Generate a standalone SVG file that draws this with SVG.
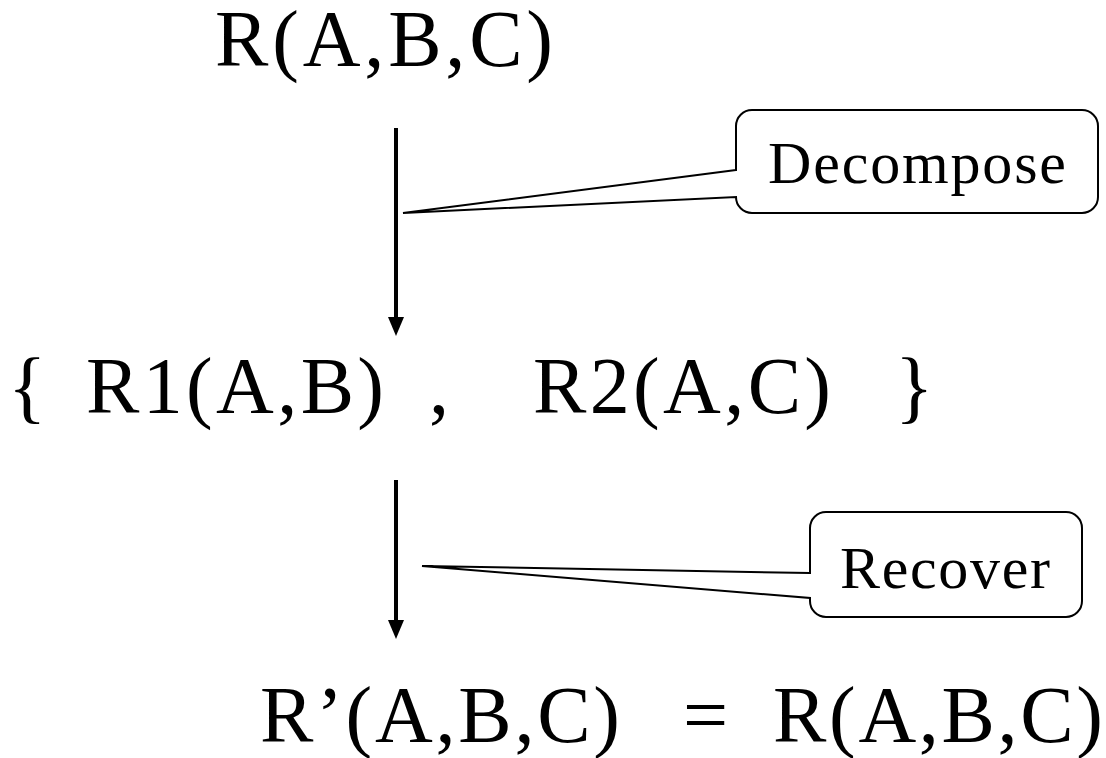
<svg xmlns="http://www.w3.org/2000/svg" width="1106" height="758" viewBox="0 0 1106 758">
<style>
.t{font-family:"Liberation Serif","Times New Roman",serif;font-size:80px;fill:#000}
.c{font-family:"Liberation Serif","Times New Roman",serif;font-size:60px;fill:#000}
.box{fill:#fff;stroke:#000;stroke-width:2;stroke-linejoin:miter}
.arr{stroke:#000;stroke-width:4;fill:none}
</style>
<g id="top"><text class="t" x="215" y="66" textLength="338">R(A,B,C)</text></g>
<g id="middle">
<text class="t" x="8" y="413">{</text>
<text class="t" x="86" y="413" textLength="298">R1(A,B)</text>
<text class="t" x="429" y="413">,</text>
<text class="t" x="533" y="413" textLength="298">R2(A,C)</text>
<text class="t" x="895" y="413">}</text>
</g>
<g id="bottom">
<text class="t" x="260" y="742" textLength="360">R’(A,B,C)</text>
<text class="t" x="683" y="742">=</text>
<text class="t" x="773" y="742" textLength="330">R(A,B,C)</text>
</g>
<g id="connectors">
<line x1="396" y1="128" x2="396" y2="318" class="arr"/>
<path d="M388,317 L404,317 L396,336 Z" fill="#000"/>
<line x1="396" y1="480" x2="396" y2="621" class="arr"/>
<path d="M388,620 L404,620 L396,639 Z" fill="#000"/>
</g>
<g id="decompose">
<path class="box" d="M736,170 L403,213 L736,197 L736,197 A16,16 0 0 0 752,213 L1082,213 A16,16 0 0 0 1098,197 L1098,126 A16,16 0 0 0 1082,110 L752,110 A16,16 0 0 0 736,126 Z"/>
<text class="c" x="768" y="183" textLength="298">Decompose</text>
</g>
<g id="recover">
<path class="box" d="M810,573 L422,566 L810,598 L810,601 A16,16 0 0 0 826,617 L1066,617 A16,16 0 0 0 1082,601 L1082,528 A16,16 0 0 0 1066,512 L826,512 A16,16 0 0 0 810,528 Z"/>
<text class="c" x="840" y="588" textLength="210">Recover</text>
</g>
</svg>
